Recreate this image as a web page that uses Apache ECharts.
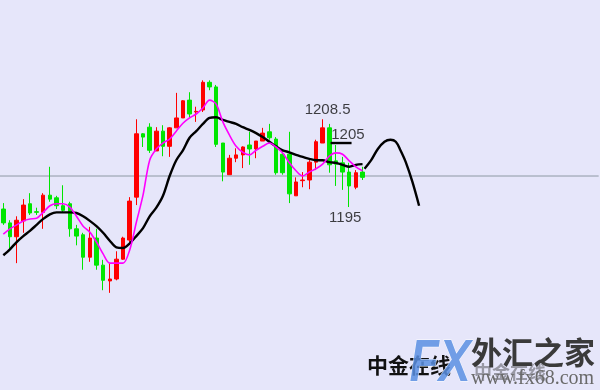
<!DOCTYPE html>
<html>
<head>
<meta charset="utf-8">
<script src="https://cdn.jsdelivr.net/npm/echarts@6/dist/echarts.min.js"></script>
<style>
html,body{margin:0;padding:0;background:#e6e6fa;}
#c{width:600px;height:390px;}
</style>
</head>
<body>
<div id="c"></div>
<script>
// ---- data ----
// candles: [open, close, low, high]
const candles = [
 [1195.0,1192.9,1192.6,1195.9],
 [1192.9,1190.8,1188.6,1193.3],
 [1190.8,1193.3,1186.8,1193.9],
 [1193.2,1195.6,1191.4,1196.5],
 [1195.8,1194.4,1194.1,1197.4],
 [1194.6,1194.5,1194.1,1195.2],
 [1194.5,1197.1,1192.0,1197.4],
 [1197.1,1196.5,1196.1,1201.4],
 [1196.7,1195.5,1195.0,1197.0],
 [1195.5,1194.8,1194.4,1198.6],
 [1195.8,1192.0,1190.8,1196.1],
 [1192.0,1190.9,1189.5,1192.6],
 [1191.1,1187.7,1185.8,1191.4],
 [1187.7,1190.6,1187.0,1192.3],
 [1190.6,1186.5,1185.8,1192.0],
 [1186.5,1184.2,1182.7,1187.3],
 [1184.1,1184.4,1182.3,1186.8],
 [1184.4,1187.4,1184.2,1188.6],
 [1187.4,1190.6,1187.3,1190.8],
 [1190.3,1196.2,1190.0,1196.8],
 [1196.8,1206.4,1195.6,1208.6],
 [1206.4,1205.9,1204.4,1206.5],
 [1207.4,1203.9,1203.5,1208.0],
 [1203.8,1206.8,1203.8,1207.4],
 [1206.8,1204.5,1203.0,1207.7],
 [1204.5,1207.3,1202.9,1207.4],
 [1207.3,1208.8,1207.3,1212.6],
 [1208.8,1211.4,1208.8,1211.5],
 [1211.5,1209.4,1208.8,1212.7],
 [1209.7,1209.8,1208.2,1210.5],
 [1210.0,1214.2,1209.7,1214.5],
 [1214.2,1213.5,1213.0,1214.5],
 [1213.5,1204.8,1204.4,1213.8],
 [1205.0,1200.6,1199.2,1205.0],
 [1200.2,1202.7,1200.2,1203.2],
 [1202.7,1203.2,1202.1,1204.2],
 [1203.2,1204.4,1201.2,1204.5],
 [1204.7,1204.1,1201.7,1206.7],
 [1204.1,1205.3,1202.7,1205.3],
 [1205.3,1206.5,1205.3,1207.3],
 [1206.7,1205.8,1205.5,1207.9],
 [1205.6,1200.5,1200.2,1205.9],
 [1203.3,1200.5,1200.2,1203.9],
 [1203.3,1197.3,1195.9,1206.7],
 [1197.0,1199.1,1197.0,1199.8],
 [1199.3,1199.4,1198.3,1200.6],
 [1199.4,1202.1,1198.0,1202.4],
 [1202.1,1205.2,1200.9,1205.5],
 [1205.0,1207.3,1205.0,1208.6],
 [1207.3,1201.7,1200.5,1207.9],
 [1202.3,1201.8,1198.5,1204.7],
 [1202.0,1200.6,1197.9,1202.9],
 [1200.6,1198.5,1195.3,1202.0],
 [1198.3,1200.5,1198.0,1200.9],
 [1200.6,1199.8,1199.4,1201.4]
];
const maFast = [1191.2,1192.0,1192.6,1193.2,1193.5,1193.6,1194.5,1195.5,1195.8,1195.8,
 1195.3,1193.9,1192.4,1191.5,1190.0,1188.2,1186.8,1186.8,1186.8,1188.8,
 1193.0,1197.1,1202.4,1204.1,1205.0,1205.6,1206.8,1208.0,1208.8,1209.4,
 1210.3,1211.5,1210.9,1208.2,1206.2,1204.5,1203.6,1203.2,1203.9,1204.5,
 1205.0,1204.4,1203.5,1202.0,1200.8,1200.0,1200.6,1201.1,1201.8,1203.0,
 1203.5,1203.3,1202.3,1201.4,1200.8];
const maSlow = [1188.0,1188.9,1190.0,1190.9,1191.7,1192.6,1193.5,1194.2,1194.5,1194.5,
 1194.5,1194.4,1193.9,1193.2,1192.4,1191.4,1190.2,1189.2,1189.1,1189.8,
 1190.9,1192.1,1193.9,1195.2,1197.0,1200.0,1202.4,1203.9,1205.8,1206.8,
 1207.9,1208.8,1208.9,1208.5,1208.2,1207.9,1207.4,1207.0,1206.5,1205.9,
 1205.2,1204.5,1203.9,1203.6,1203.2,1202.9,1202.6,1202.4,1202.4,1202.1,
 1202.0,1201.7,1201.4,1201.7,1201.8];
// hand-drawn forecast path: [bar position, price]
const forecast = [[54.3,1201.1],[55.3,1202.4],[56.3,1204.1],[57.3,1205.2],[58.2,1205.5],
 [59.0,1205.2],[59.7,1203.9],[60.5,1202.1],[61.5,1199.1],[62.5,1195.5]];
const refLevel = 1200;
const resistLevel = 1205;
const resistSpan = [49.2, 52.35];
const annotText = ['1208.5','1205','1195'];
const annotPos = [48, 51.8, 52];
const annotPrice = [1208.6, 1205, 1195.3];
const slotCount = 90;
const categories = Array.from({length: slotCount}, (_, i) => String(i));

// ---- chart ----
const chart = echarts.init(document.getElementById('c'), null, {renderer: 'canvas'});
const labelFont = {fontFamily: 'Liberation Sans', fontSize: 15, color: '#111'};
const annotPlace = [
  {position: 'top', distance: 2, offset: [5, 0]},
  {position: 'top', distance: 1, offset: [0, 0]},
  {position: 'bottom', distance: 3, offset: [-4, 0]}
];
const option = {
  animation: false,
  backgroundColor: '#e6e6fa',
  grid: {left: -1.33, top: 0, width: 600, height: 390, containLabel: false},
  xAxis: [
    {type: 'category', data: categories, boundaryGap: true, show: false},
    {type: 'value', min: -0.5, max: slotCount - 0.5, show: false}
  ],
  yAxis: {type: 'value', min: 1167.58, max: 1226.67, show: false, scale: true},
  series: [
    {type: 'line', xAxisIndex: 1, z: 1, symbol: 'none', silent: true,
     data: [[-0.5, refLevel], [slotCount - 0.5, refLevel]],
     lineStyle: {color: '#8e99a4', width: 1}},
    {type: 'candlestick', xAxisIndex: 0, z: 2, data: candles, barWidth: 4,
     itemStyle: {color: '#ff0000', color0: '#00e600', borderColor: '#ff0000', borderColor0: '#00e600', borderWidth: 1}},
    {type: 'line', xAxisIndex: 0, z: 3, data: maSlow, symbol: 'none', smooth: 0.3,
     lineStyle: {color: '#000000', width: 2.4}},
    {type: 'line', xAxisIndex: 0, z: 4, data: maFast, symbol: 'none', smooth: 0.3,
     lineStyle: {color: '#ff00ff', width: 1.6}},
    {type: 'line', xAxisIndex: 1, z: 4, data: forecast, symbol: 'none', smooth: 0.35,
     lineStyle: {color: '#000000', width: 2.4}},
    {type: 'line', xAxisIndex: 1, z: 4, symbol: 'none',
     data: [[resistSpan[0], resistLevel], [resistSpan[1], resistLevel]],
     lineStyle: {color: '#000000', width: 2.4}},
    {type: 'scatter', xAxisIndex: 1, z: 5, symbolSize: 0,
     data: annotText.map((t, i) => ({name: t, value: [annotPos[i], annotPrice[i]],
       label: Object.assign({show: true, formatter: t}, labelFont, annotPlace[i])}))}
  ],
  graphic: [
    {type: 'text', left: 367, top: 355, z: 10, style: {text: '中金在线', font: 'bold 21px "Noto Sans CJK SC"', fill: '#111'}},
    {type: 'text', left: 474, top: 363, z: 10, style: {text: '中金在线', font: 'bold 18px "Noto Sans CJK SC"', fill: '#222', opacity: 0.4}},
    {type: 'text', left: 409, top: 334, z: 11, scaleX: 0.8,
     style: {text: 'FX', font: 'italic bold 60px "Liberation Sans"', opacity: 0.85,
       fill: '#5a8fe2', stroke: '#ffffff', lineWidth: 1}},
    {type: 'text', left: 471, top: 337, z: 11, style: {text: '外汇之家', font: 'bold 31px "Noto Sans CJK SC"', fill: '#3a3a3a'}},
    {type: 'text', left: 471, top: 369, z: 12, style: {text: 'www.fx68.com', font: '20px "Liberation Serif"', fill: '#6a6a6a'}}
  ]
};
chart.setOption(option);
</script>
</body>
</html>
